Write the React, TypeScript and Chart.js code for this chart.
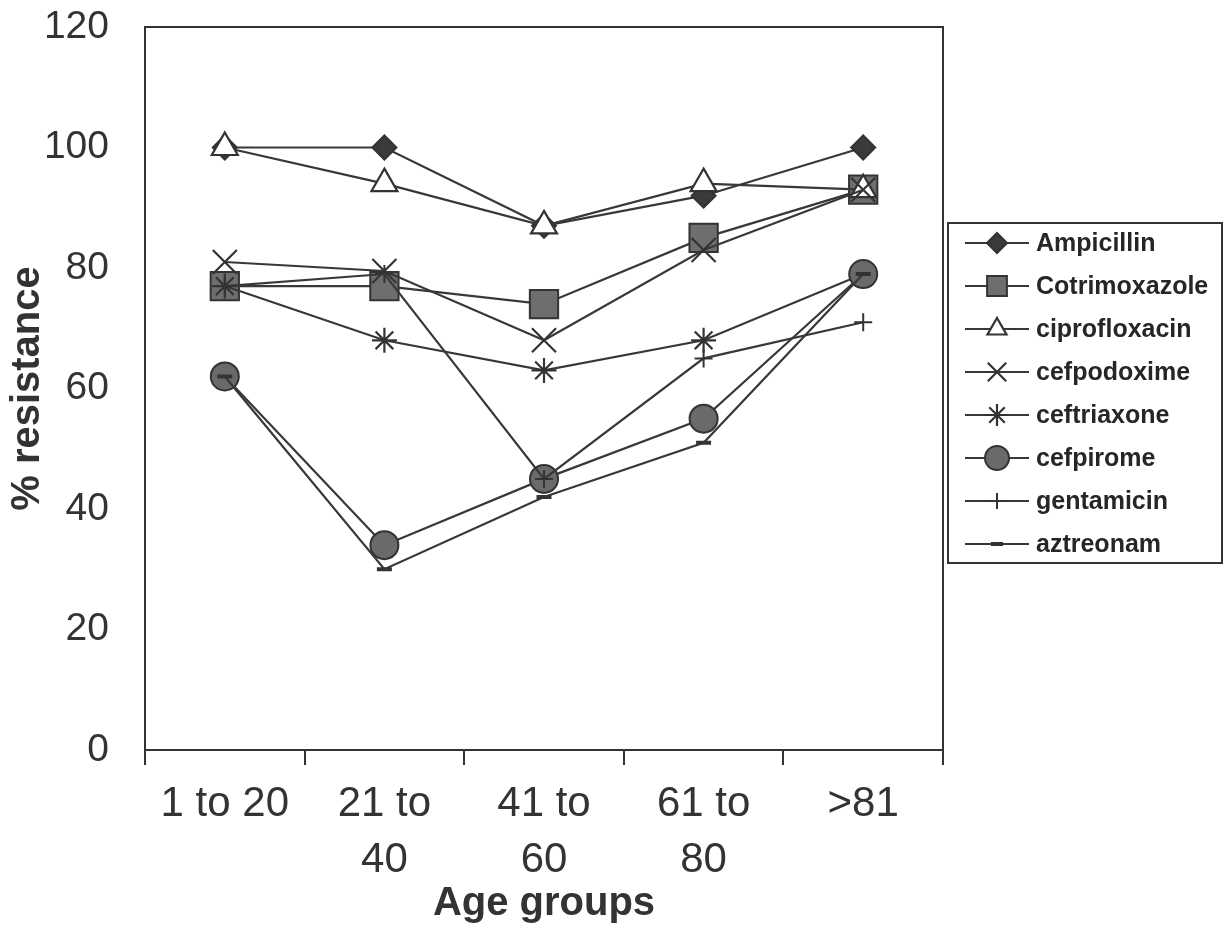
import React, { useEffect, useRef } from "react";
import { Chart, registerables } from "chart.js";
import { drawPoint } from "chart.js/helpers";

Chart.register(...registerables);

const categories: (string | string[])[] = ["1 to 20", ["21 to", "40"], ["41 to", "60"], ["61 to", "80"], ">81"];
const yTicks = [0, 20, 40, 60, 80, 100, 120];

const ampicillin = [100, 100, 87, 92, 100];
const cotrimoxazole = [77, 77, 74, 85, 93];
const ciprofloxacin = [100, 94, 87, 94, 93];
const cefpodoxime = [81, 79.5, 68, 83, 93];
const ceftriaxone = [77, 68, 63, 68, 79];
const cefpirome = [62, 34, 45, 55, 79];
const gentamicin = [77, 79, 45, 65, 71];
const aztreonam = [62, 30, 42, 51, 79];

const seriesNames = ["Ampicillin", "Cotrimoxazole", "ciprofloxacin", "cefpodoxime", "ceftriaxone", "cefpirome", "gentamicin", "aztreonam"];
const seriesValues = [ampicillin, cotrimoxazole, ciprofloxacin, cefpodoxime, ceftriaxone, cefpirome, gentamicin, aztreonam];
const pointStyles = ["rectRot", "rect", "triangle", "crossRot", "star", "circle", "cross", "line"];
const pointRadii = [12, 20, 15, 17, 12.5, 14, 9, 7.5];
const legendRadii = [10, 14, 11, 13, 11, 12, 8, 6];
const pointFills = ["#3a3a3a", "#6e6e6e", "#ffffff", "#333333", "#333333", "#6a6a6a", "#333333", "#333333"];
const pointBorderWidths = [2, 2, 2.2, 2.2, 2.2, 2, 2, 4];

const FONT = "'Liberation Sans', Arial, sans-serif";
const INK = "#333333";

const frameAndLegend = {
  id: "frameAndLegend",
  afterDatasetsDraw(chart: any) {
    const { ctx, chartArea } = chart;
    ctx.save();
    ctx.strokeStyle = INK;
    ctx.lineWidth = 2;
    ctx.beginPath();
    ctx.moveTo(chartArea.left, chartArea.top);
    ctx.lineTo(chartArea.right, chartArea.top);
    ctx.lineTo(chartArea.right, chartArea.bottom);
    ctx.stroke();
    ctx.restore();
  },
  afterDraw(chart: any) {
    const { ctx } = chart;
    const boxL = 948, boxT = 223, boxR = 1222, boxB = 563;
    ctx.save();
    ctx.strokeStyle = INK;
    ctx.lineWidth = 2;
    ctx.strokeRect(boxL, boxT, boxR - boxL, boxB - boxT);
    chart.data.datasets.forEach((ds: any, i: number) => {
      const y = 243 + i * 43;
      ctx.strokeStyle = ds.borderColor;
      ctx.lineWidth = 2;
      ctx.beginPath();
      ctx.moveTo(965, y);
      ctx.lineTo(1029, y);
      ctx.stroke();
      ctx.fillStyle = ds.pointBackgroundColor;
      ctx.strokeStyle = ds.pointBorderColor;
      ctx.lineWidth = ds.pointBorderWidth;
      drawPoint(ctx, { pointStyle: ds.pointStyle, rotation: 0, borderWidth: ds.pointBorderWidth, radius: legendRadii[i] } as any, 997, y);
      ctx.fillStyle = "#262626";
      ctx.font = `bold 25px ${FONT}`;
      ctx.textBaseline = "middle";
      ctx.textAlign = "left";
      ctx.fillText(ds.label, 1036, y + 1);
    });
    ctx.restore();
  },
};

export default function App() {
  const canvasRef = useRef<HTMLCanvasElement | null>(null);

  useEffect(() => {
    const canvas = canvasRef.current;
    if (!canvas) return;
    const datasets = seriesNames.map((name, i) => ({
      label: name,
      data: seriesValues[i],
      borderColor: "#383838",
      borderWidth: 2.2,
      pointStyle: pointStyles[i],
      pointRadius: pointRadii[i],
      pointHoverRadius: pointRadii[i],
      pointBackgroundColor: pointFills[i],
      pointBorderColor: "#333333",
      pointBorderWidth: pointBorderWidths[i],
      tension: 0,
      fill: false,
      order: seriesNames.length - i,
    }));
    const chart = new Chart(canvas, {
      type: "line",
      data: { labels: categories as any, datasets },
      options: {
        animation: false,
        responsive: false,
        devicePixelRatio: 1,
        layout: { padding: { left: 0, top: 27, right: 284, bottom: 0 } },
        plugins: { legend: { display: false }, tooltip: { enabled: false } },
        scales: {
          x: {
            type: "category",
            offset: true,
            grid: { display: true, drawOnChartArea: false, drawTicks: true, tickLength: 15, offset: true, color: INK, lineWidth: 2 },
            border: { display: true, color: INK, width: 2 },
            ticks: { color: INK, font: { family: FONT, size: 42, lineHeight: 1.32 }, padding: 12, maxRotation: 0, autoSkip: false },
            title: { display: true, text: "Age groups", color: INK, font: { family: FONT, size: 40, weight: "bold", lineHeight: 1.2 }, padding: { top: 5, bottom: 0 } },
            afterFit: (scale: any) => {
              scale.height = 178;
              scale.paddingLeft = 0;
              scale.paddingRight = 0;
            },
          },
          y: {
            min: 0,
            max: 120,
            afterBuildTicks: (scale: any) => { scale.ticks = yTicks.map((v) => ({ value: v })); },
            grid: { display: false, drawTicks: false },
            border: { display: true, color: INK, width: 2 },
            ticks: { color: INK, font: { family: FONT, size: 39 }, padding: 36 },
            title: { display: true, text: "% resistance", color: INK, font: { family: FONT, size: 40, weight: "bold", lineHeight: 1.2 }, padding: { top: 4, bottom: 0 } },
            afterFit: (scale: any) => {
              scale.width = 145;
              scale.paddingTop = 0;
              scale.paddingBottom = 0;
            },
          },
        },
      },
      plugins: [frameAndLegend],
    });
    return () => chart.destroy();
  }, []);

  return (
    <div style={{ position: "absolute", left: 0, top: 0, width: 1227, height: 928, background: "#ffffff" }}>
      <canvas ref={canvasRef} width={1227} height={928} style={{ display: "block" }} />
    </div>
  );
}
